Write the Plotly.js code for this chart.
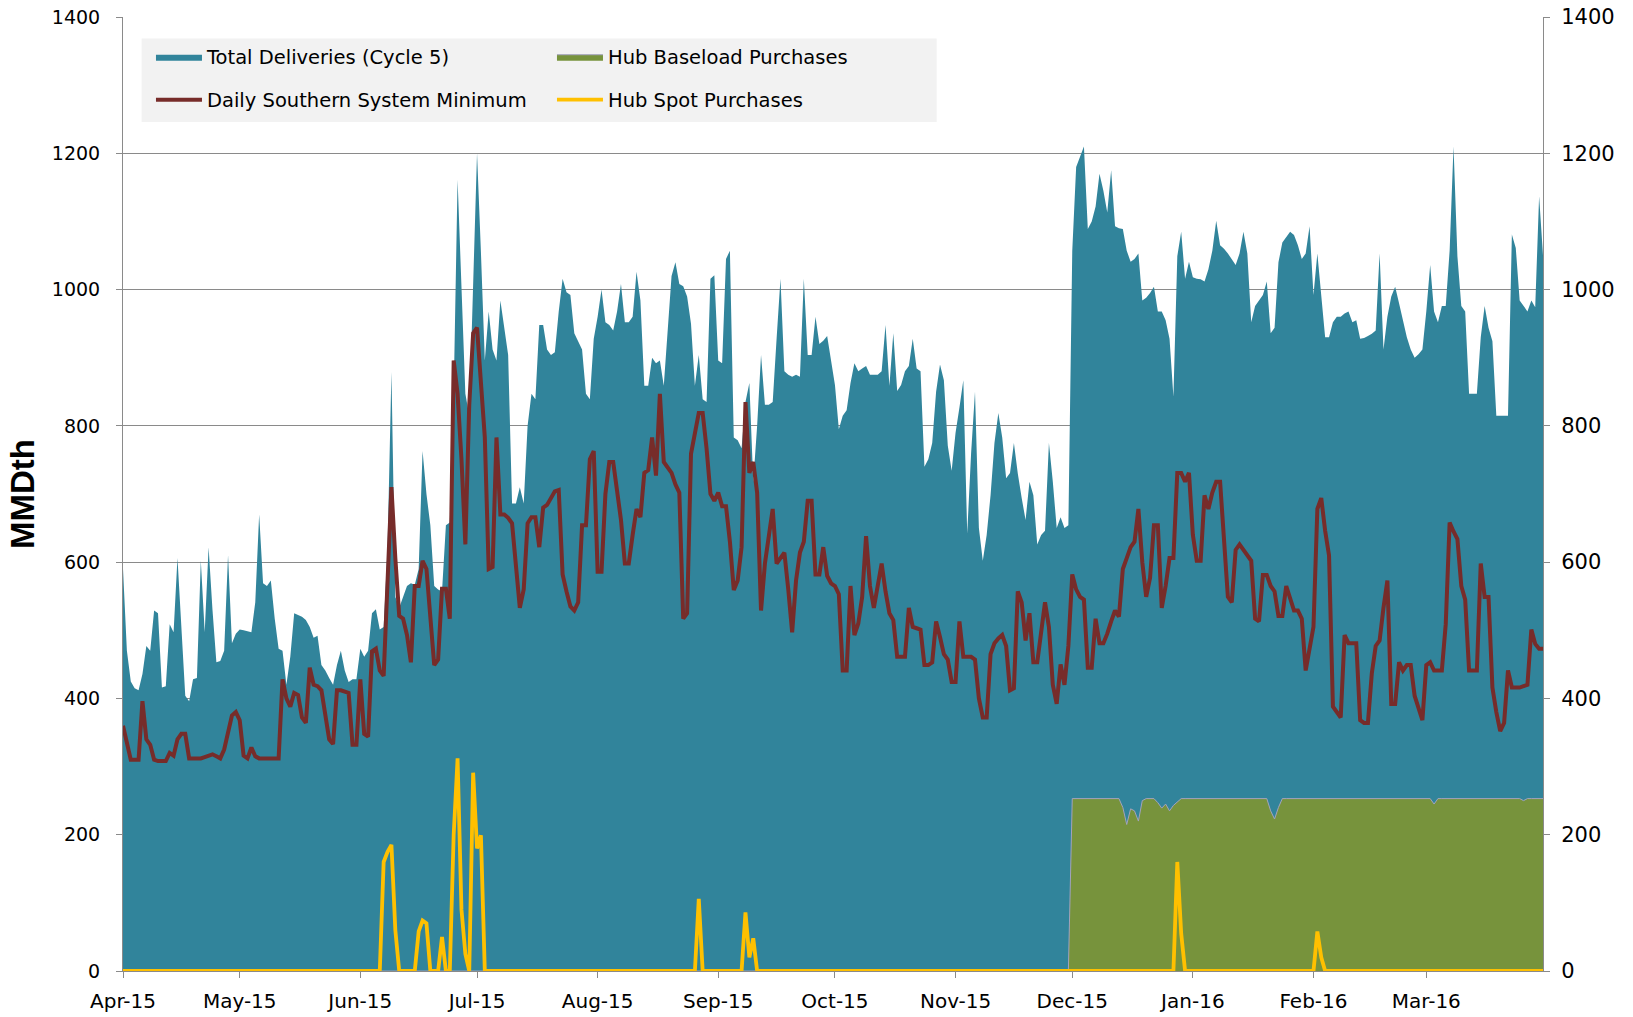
<!DOCTYPE html>
<html>
<head>
<meta charset="utf-8">
<script src="https://cdn.plot.ly/plotly-3.0.1.min.js"></script>
<style>html,body{margin:0;padding:0;background:#fff;}#chart{width:1633px;height:1017px;}</style>
</head>
<body>
<div id="chart"></div>
<script>
// Daily values, 1 Apr 2015 .. 31 Mar 2016 (366 days), MMDth
const startDate = '2015-04-01';

const totalDeliveries = [
590,470,425,415,412,436,477,470,529,525,
416,418,509,497,606,500,404,396,428,430,
602,497,622,530,453,455,470,610,481,495,
501,500,498,497,541,670,569,565,573,517,
473,470,420,461,525,522,520,515,505,489,
492,449,441,430,420,449,470,441,424,428,
428,473,461,470,525,531,501,505,620,879,
549,533,550,565,569,567,590,763,700,654,
565,560,557,654,658,847,1161,992,847,815,
992,1200,1055,896,968,912,896,984,944,904,
686,686,710,686,800,847,839,948,948,912,
904,908,968,1016,996,992,936,925,912,847,
839,928,960,1000,952,948,940,968,1008,952,
952,960,1026,984,859,859,900,892,896,859,
940,1020,1040,1008,1005,990,950,859,904,839,
835,1016,1021,896,892,1045,1057,783,779,767,
835,863,718,800,904,831,831,835,928,1016,
880,875,872,875,872,1016,904,904,960,920,
925,932,896,860,795,815,823,863,892,880,
884,888,875,875,875,880,948,859,936,851,
860,880,888,928,884,880,740,751,775,850,
890,867,771,734,790,827,867,642,760,850,
650,602,640,698,775,819,783,723,731,775,
730,694,662,718,698,626,640,646,775,718,
650,666,650,654,1057,1180,1194,1210,1089,1100,
1122,1170,1145,1113,1175,1093,1090,1089,1057,1041,
1045,1053,984,988,995,1004,968,968,955,928,
843,1049,1085,1016,1041,1018,1016,1015,1012,1030,
1057,1101,1065,1060,1053,1045,1036,1053,1085,1053,
952,976,985,992,1012,936,944,1040,1069,1077,
1085,1080,1065,1045,1053,1093,992,1053,988,930,
930,952,960,960,965,968,952,955,928,929,
932,935,940,1053,912,960,990,1004,980,955,
930,912,900,905,912,968,1036,968,952,976,
976,1057,1210,1049,976,968,847,847,847,930,
976,944,924,815,815,815,815,1081,1061,984,
975,968,984,974,1137,1050
];

const systemMinimum = [
360,332,310,310,310,396,340,332,310,308,
308,308,320,316,340,348,348,312,312,312,
312,314,316,318,315,312,325,348,375,380,
368,316,312,328,315,312,312,312,312,312,
312,428,400,388,408,405,372,364,445,420,
418,412,375,340,333,412,412,410,408,332,
332,428,348,344,469,473,441,433,573,710,
606,521,517,493,453,565,565,602,590,525,
449,457,561,561,517,896,847,751,626,831,
936,944,860,783,590,593,783,670,670,665,
657,600,533,560,657,666,666,622,680,684,
695,704,706,582,557,535,529,541,654,654,
751,763,586,586,700,747,747,702,662,598,
598,640,678,666,731,735,783,727,847,747,
740,731,714,702,517,525,759,791,819,819,
767,700,690,702,682,682,630,559,573,622,
835,731,747,702,529,598,640,678,598,605,
614,560,497,573,614,630,690,690,582,582,
622,580,569,565,553,441,441,565,493,510,
549,638,565,533,570,598,557,525,515,461,
461,461,533,505,503,501,449,449,453,513,
490,465,457,424,424,513,461,461,461,457,
400,372,372,465,481,488,493,477,412,415,
557,541,485,525,453,453,500,541,505,420,
392,450,420,477,582,560,549,545,445,445,
517,481,481,495,513,529,520,590,606,622,
630,678,600,549,577,654,654,533,565,606,
606,731,731,718,731,640,602,602,698,678,
702,718,718,640,549,541,618,626,618,610,
602,517,513,581,581,565,557,521,521,565,
545,529,529,517,441,470,505,678,694,646,
610,388,380,372,493,481,481,481,368,364,
364,437,477,485,533,573,392,392,453,441,
449,449,404,385,368,449,453,441,441,441,
509,658,645,634,565,545,441,441,441,598,
549,549,416,380,352,364,441,416,416,416,
418,420,501,480,473,473
];

const baseloadPurchases = [
0,0,0,0,0,0,0,0,0,0, 0,0,0,0,0,0,0,0,0,0, 0,0,0,0,0,0,0,0,0,0,
0,0,0,0,0,0,0,0,0,0, 0,0,0,0,0,0,0,0,0,0, 0,0,0,0,0,0,0,0,0,0,
0,0,0,0,0,0,0,0,0,0, 0,0,0,0,0,0,0,0,0,0, 0,0,0,0,0,0,0,0,0,0,
0,0,0,0,0,0,0,0,0,0, 0,0,0,0,0,0,0,0,0,0, 0,0,0,0,0,0,0,0,0,0,
0,0,0,0,0,0,0,0,0,0, 0,0,0,0,0,0,0,0,0,0, 0,0,0,0,0,0,0,0,0,0,
0,0,0,0,0,0,0,0,0,0, 0,0,0,0,0,0,0,0,0,0, 0,0,0,0,0,0,0,0,0,0,
0,0,0,0,0,0,0,0,0,0, 0,0,0,0,0,0,0,0,0,0, 0,0,0,0,0,0,0,0,0,0,
0,0,0,0,0,0,0,0,0,0, 0,0,0,0,0,0,0,0,0,0, 0,0,0,0,0,0,0,0,0,0,
0,0,0,0,253,253,253,253,253,253,
253,253,253,253,253,253,253,240,215,238,
235,220,250,253,253,253,247,239,245,235,
243,248,253,253,253,253,253,253,253,253,
253,253,253,253,253,253,253,253,253,253,
253,253,253,253,253,235,223,240,253,253,
253,253,253,253,253,253,253,253,253,253,
253,253,253,253,253,253,253,253,253,253,
253,253,253,253,253,253,253,253,253,253,
253,253,253,253,253,253,253,245,253,253,
253,253,253,253,253,253,253,253,253,253,
253,253,253,253,253,253,253,253,253,253,
250,253,253,253,253,253
];

const spotPurchases = [
0,0,0,0,0,0,0,0,0,0, 0,0,0,0,0,0,0,0,0,0, 0,0,0,0,0,0,0,0,0,0,
0,0,0,0,0,0,0,0,0,0, 0,0,0,0,0,0,0,0,0,0, 0,0,0,0,0,0,0,0,0,0,
0,0,0,0,0,0,0,160,175,185,
60,0,0,0,0,0,58,74,70,0,
0,0,50,0,0,200,312,90,25,0,
291,180,199,0,0,0,0,0,0,0,
0,0,0,0,0,0,0,0,0,0, 0,0,0,0,0,0,0,0,0,0,
0,0,0,0,0,0,0,0,0,0, 0,0,0,0,0,0,0,0,0,0,
0,0,0,0,0,0,0,0,106,0,
0,0,0,0,0,0,0,0,0,0,
86,20,48,0,0,0,0,0,0,0,
0,0,0,0,0,0,0,0,0,0, 0,0,0,0,0,0,0,0,0,0, 0,0,0,0,0,0,0,0,0,0,
0,0,0,0,0,0,0,0,0,0, 0,0,0,0,0,0,0,0,0,0, 0,0,0,0,0,0,0,0,0,0,
0,0,0,0,0,0,0,0,0,0, 0,0,0,0,0,0,0,0,0,0, 0,0,0,0,0,0,0,0,0,0,
0,0,0,0,0,0,0,0,0,0,
0,160,55,0,0,0,0,0,0,0,
0,0,0,0,0,0,0,0,0,0, 0,0,0,0,0,0,0,0,0,0,
0,0,0,0,0,0,0,58,20,0,
0,0,0,0,0,0,0,0,0,0, 0,0,0,0,0,0,0,0,0,0, 0,0,0,0,0,0,0,0,0,0,
0,0,0,0,0,0,0,0,0,0, 0,0,0,0,0,0,0,0,0,0,
0,0,0,0,0,0
];

const monthTicks = ['2015-04-01','2015-05-01','2015-06-01','2015-07-01','2015-08-01','2015-09-01',
  '2015-10-01','2015-11-01','2015-12-01','2016-01-01','2016-02-01','2016-03-01'];
const monthLabels = ['Apr-15','May-15','Jun-15','Jul-15','Aug-15','Sep-15',
  'Oct-15','Nov-15','Dec-15','Jan-16','Feb-16','Mar-16'];
const yTicks = [0,200,400,600,800,1000,1200,1400];

const seriesNames = ['Total Deliveries (Cycle 5)','Hub Baseload Purchases',
  'Daily Southern System Minimum','Hub Spot Purchases'];

// x dates: one per day from startDate
const t0 = Date.parse(startDate + 'T00:00:00Z');
const dates = totalDeliveries.map((_, i) => new Date(t0 + i * 86400000).toISOString().slice(0, 10));

const FONT = 'DejaVu Sans, sans-serif';
const GRID = '#8a8a8a';

const traces = [
  {x: dates, y: totalDeliveries, name: seriesNames[0], type: 'scatter', mode: 'lines',
   fill: 'tozeroy', fillcolor: '#31849b', line: {color: '#31849b', width: 0},
   legend: 'legend', hoverinfo: 'skip'},
  {x: dates, y: baseloadPurchases, name: seriesNames[1], type: 'scatter', mode: 'lines',
   fill: 'tozeroy', fillcolor: '#77933c', line: {color: '#a3a3bd', width: 1},
   legend: 'legend', hoverinfo: 'skip'},
  {x: dates, y: systemMinimum, name: seriesNames[2], type: 'scatter', mode: 'lines',
   line: {color: '#772c2a', width: 4}, legend: 'legend2', hoverinfo: 'skip'},
  {x: dates, y: spotPurchases, name: seriesNames[3], type: 'scatter', mode: 'lines',
   line: {color: '#ffc000', width: 3.8}, yaxis: 'y2', legend: 'legend2', hoverinfo: 'skip'}
];

const legendCommon = {
  orientation: 'h', xanchor: 'left', yanchor: 'middle', x: 0.0197,
  bgcolor: 'rgba(0,0,0,0)', font: {family: FONT, size: 19.5, color: '#000'},
  entrywidth: 340, entrywidthmode: 'pixels', itemwidth: 46, traceorder: 'normal'
};

const layout = {
  width: 1633, height: 1017,
  margin: {l: 123, r: 90, t: 17, b: 46},
  paper_bgcolor: '#ffffff', plot_bgcolor: '#ffffff',
  showlegend: true,
  legend: Object.assign({}, legendCommon, {y: 0.958}),
  legend2: Object.assign({}, legendCommon, {y: 0.913}),
  xaxis: {
    type: 'date', range: ['2015-04-01', '2016-03-31'],
    tickmode: 'array', tickvals: monthTicks, ticktext: monthLabels,
    ticks: 'outside', ticklen: 6, tickcolor: GRID, tickwidth: 1,
    ticklabelstandoff: 6,
    showline: true, linecolor: GRID, linewidth: 1,
    showgrid: false, zeroline: false,
    tickfont: {family: FONT, size: 20, color: '#000'}
  },
  yaxis: {
    range: [0, 1400], tickmode: 'array', tickvals: yTicks,
    ticks: 'outside', ticklen: 6, tickcolor: GRID,
    ticklabelstandoff: 12,
    showline: true, linecolor: GRID, linewidth: 1,
    showgrid: true, gridcolor: GRID, gridwidth: 1, zeroline: false,
    tickfont: {family: FONT, size: 19, color: '#000'},
    title: {text: '<b>MMDth</b>', font: {family: 'Liberation Sans, Arial, sans-serif', size: 33, color: '#000'}, standoff: 7}
  },
  yaxis2: {
    range: [0, 1400], tickmode: 'array', tickvals: yTicks,
    overlaying: 'y', side: 'right',
    ticks: 'outside', ticklen: 6, tickcolor: GRID,
    ticklabelstandoff: 7,
    showline: true, linecolor: GRID, linewidth: 1,
    showgrid: false, zeroline: false,
    tickfont: {family: FONT, size: 21, color: '#000'}
  },
  shapes: [{
    type: 'rect', xref: 'paper', yref: 'paper',
    x0: 0.0131, x1: 0.573, y0: 0.890, y1: 0.9775,
    fillcolor: '#f2f2f2', line: {width: 0}, layer: 'above'
  }]
};

Plotly.newPlot('chart', traces, layout, {displayModeBar: false, staticPlot: true});
</script>
</body>
</html>
